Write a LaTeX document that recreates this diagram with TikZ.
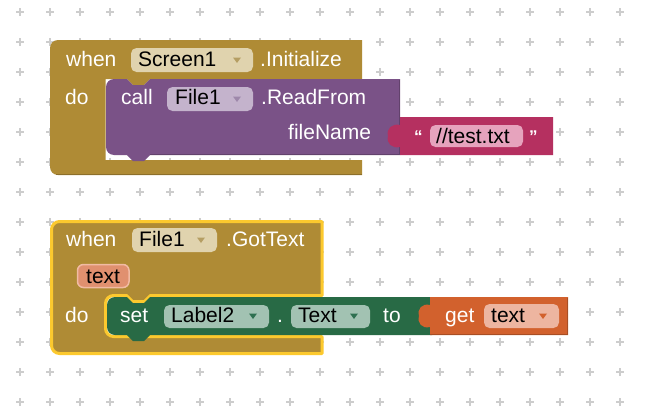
\documentclass[tikz,border=0pt]{standalone}
\usepackage{fontspec}
\setmainfont{Liberation Sans}
\definecolor{gold}{HTML}{AF8B35}
\definecolor{goldpill}{HTML}{E0D3AE}
\definecolor{goldarrow}{HTML}{B59E63}
\definecolor{purp}{HTML}{7A5287}
\definecolor{purppill}{HTML}{C4B3CC}
\definecolor{purparrow}{HTML}{9E88AA}
\definecolor{mag}{HTML}{B53060}
\definecolor{magpill}{HTML}{E6A3BD}
\definecolor{grn}{HTML}{286A45}
\definecolor{grnpill}{HTML}{A2C2B2}
\definecolor{grnarrow}{HTML}{2E7050}
\definecolor{orng}{HTML}{D2612D}
\definecolor{orngpill}{HTML}{EDB5A0}
\definecolor{selyel}{HTML}{FCC92E}
\definecolor{parfill}{HTML}{E0906F}
\definecolor{parline}{HTML}{F1BBA3}
\definecolor{gridc}{HTML}{CDCDCD}
\newcommand\blkfont{\fontsize{21}{24}\selectfont}
\newcommand\qfont{\fontsize{17}{18}\selectfont\bfseries}
\tikzset{
  lbl/.style={text=white, font=\blkfont, inner sep=0pt, anchor=base west},
  ptxt/.style={text=black, font=\blkfont, inner sep=0pt, anchor=base west},
  qt/.style={text=white, font=\qfont, inner sep=0pt, anchor=base west},
  pillshape/.style={rounded corners=5.5},
  gridplus/.style={draw=gridc, line width=1.2pt}
}
\newcommand\ddarrow[3]{\fill[#1] (#2-4,#3-2.5) -- (#2+4,#3-2.5) -- (#2,#3+3) -- cycle;}
\begin{document}
\begin{tikzpicture}[x=1pt,y=-1pt]
\useasboundingbox (0,0) rectangle (646,407);
\fill[white] (0,0) rectangle (646,407);
% grid
\foreach \i in {0,...,20}{
  \foreach \j in {0,...,13}{
    \draw[gridplus] (20+30*\i-4,12+30*\j) -- (20+30*\i+4,12+30*\j);
    \draw[gridplus] (20+30*\i,12+30*\j-4) -- (20+30*\i,12+30*\j+4);
  }
}
% ===== Block 1: when Screen1.Initialize =====
\fill[gold] (50,48) arc[start angle=180,end angle=270,radius=8] -- (362,40) -- (362,79)
  -- (150,79) -- (144,85) -- (133,85) -- (127,79) -- (105.5,79) -- (105.5,160) -- (362,160)
  -- (362,175) -- (58,175) arc[start angle=90,end angle=180,radius=8] -- cycle;
\draw[gold!80!black, line width=1pt] (56,174.5) -- (362,174.5);
\node[lbl] (w1) at (66,66.5) {when};
\fill[goldpill,pillshape] (131,48) rectangle (253,72);
\node[ptxt] (s1) at (138,66.5) {Screen1};
\ddarrow{goldarrow}{237}{60}
\node[lbl] (i1) at (260,66.5) {.Initialize};
\node[lbl] (d1) at (65,104) {do};
% purple call block
\fill[purp] (106,87) arc[start angle=180,end angle=270,radius=8] -- (127,79) -- (133,85)
  -- (144,85) -- (150,79) -- (400,79) -- (400,155) -- (150,155) -- (144,161) -- (133,161)
  -- (127,155) -- (114,155) arc[start angle=90,end angle=180,radius=8] -- cycle;
\draw[purp!80!black, line width=1pt] (150,154.5) -- (399.5,154.5) -- (399.5,80);
\node[lbl] (c1) at (121,104) {call};
\fill[purppill,pillshape] (167,87) rectangle (253,111);
\node[ptxt] (f1) at (175,104) {File1};
\ddarrow{purparrow}{237}{99}
\node[lbl] (r1) at (261,104) {.ReadFrom};
\node[lbl] (fn) at (288,139.5) {fileName};
% magenta text block
\fill[mag] (400,117) -- (553,117) -- (553,155) -- (400,155) -- (400,147)
  .. controls (392,149) and (386,143) .. (388,136)
  .. controls (386,129) and (392,123) .. (400,125) -- cycle;
\node[qt] (q1) at (414,142) {“};
\fill[magpill,pillshape] (430,125) rectangle (523,147);
\node[ptxt] (tt) at (436,143) {//test.txt};
\node[qt] (q2) at (529,142) {”};
% ===== Block 2: when File1.GotText =====
\draw[fill=gold, draw=selyel, line width=3pt, line join=round]
  (51.5,229.5) arc[start angle=180,end angle=270,radius=8] -- (322,221.5) -- (322,295.5)
  -- (150.5,295.5) -- (144.5,301.5) -- (132.5,301.5) -- (126.5,295.5) -- (113.5,295.5)
  arc[start angle=270,end angle=180,radius=8] -- (105.5,328.5)
  arc[start angle=180,end angle=90,radius=8] -- (322,336.5) -- (322,353.5)
  -- (59.5,353.5) arc[start angle=90,end angle=180,radius=8] -- cycle;
\node[lbl] (w2) at (66,246.5) {when};
\fill[goldpill,pillshape] (132,228) rectangle (217,252);
\node[ptxt] (f2) at (139,246.5) {File1};
\ddarrow{goldarrow}{201}{240}
\node[lbl] (g2) at (226,246.5) {.GotText};
\draw[fill=parfill, draw=parline, line width=1.5pt, rounded corners=6] (77.5,264.5) rectangle (129,287.5);
\node[ptxt] (p2) at (86,283) {text};
\node[lbl] (d2) at (65,322) {do};
% green set block
\fill[grn] (107,305) arc[start angle=180,end angle=270,radius=8] -- (127,297) -- (133,303)
  -- (144,303) -- (150,297) -- (432,297) -- (432,335) -- (150,335) -- (144,341) -- (133,341)
  -- (127,335) -- (115,335) arc[start angle=90,end angle=180,radius=8] -- cycle;
\node[lbl] (st) at (120,322) {set};
\fill[grnpill,pillshape] (164,305) rectangle (269,328);
\node[ptxt] (l2) at (171,322) {Label2};
\ddarrow{grnarrow}{253}{316}
\node[lbl] (dot) at (277,322) {.};
\fill[grnpill,pillshape] (291,305) rectangle (370,328);
\node[ptxt] (tx) at (298,322) {Text};
\ddarrow{grnarrow}{354}{316}
\node[lbl] (to) at (383,322) {to};
% orange get block
\fill[orng] (430,297) -- (568,297) -- (568,335) -- (430,335) -- (430,327)
  .. controls (422,329) and (417,323) .. (419,316)
  .. controls (417,309) and (422,303) .. (430,305) -- cycle;
\draw[orng!80!black, line width=1pt] (430,334.5) -- (567.5,334.5) -- (567.5,297.5);
\node[lbl] (gt) at (445,322) {get};
\fill[orngpill,pillshape] (484,304) rectangle (559,328);
\node[ptxt] (tv) at (491,322) {text};
\ddarrow{orng}{543}{316}
\end{tikzpicture}
\end{document}
